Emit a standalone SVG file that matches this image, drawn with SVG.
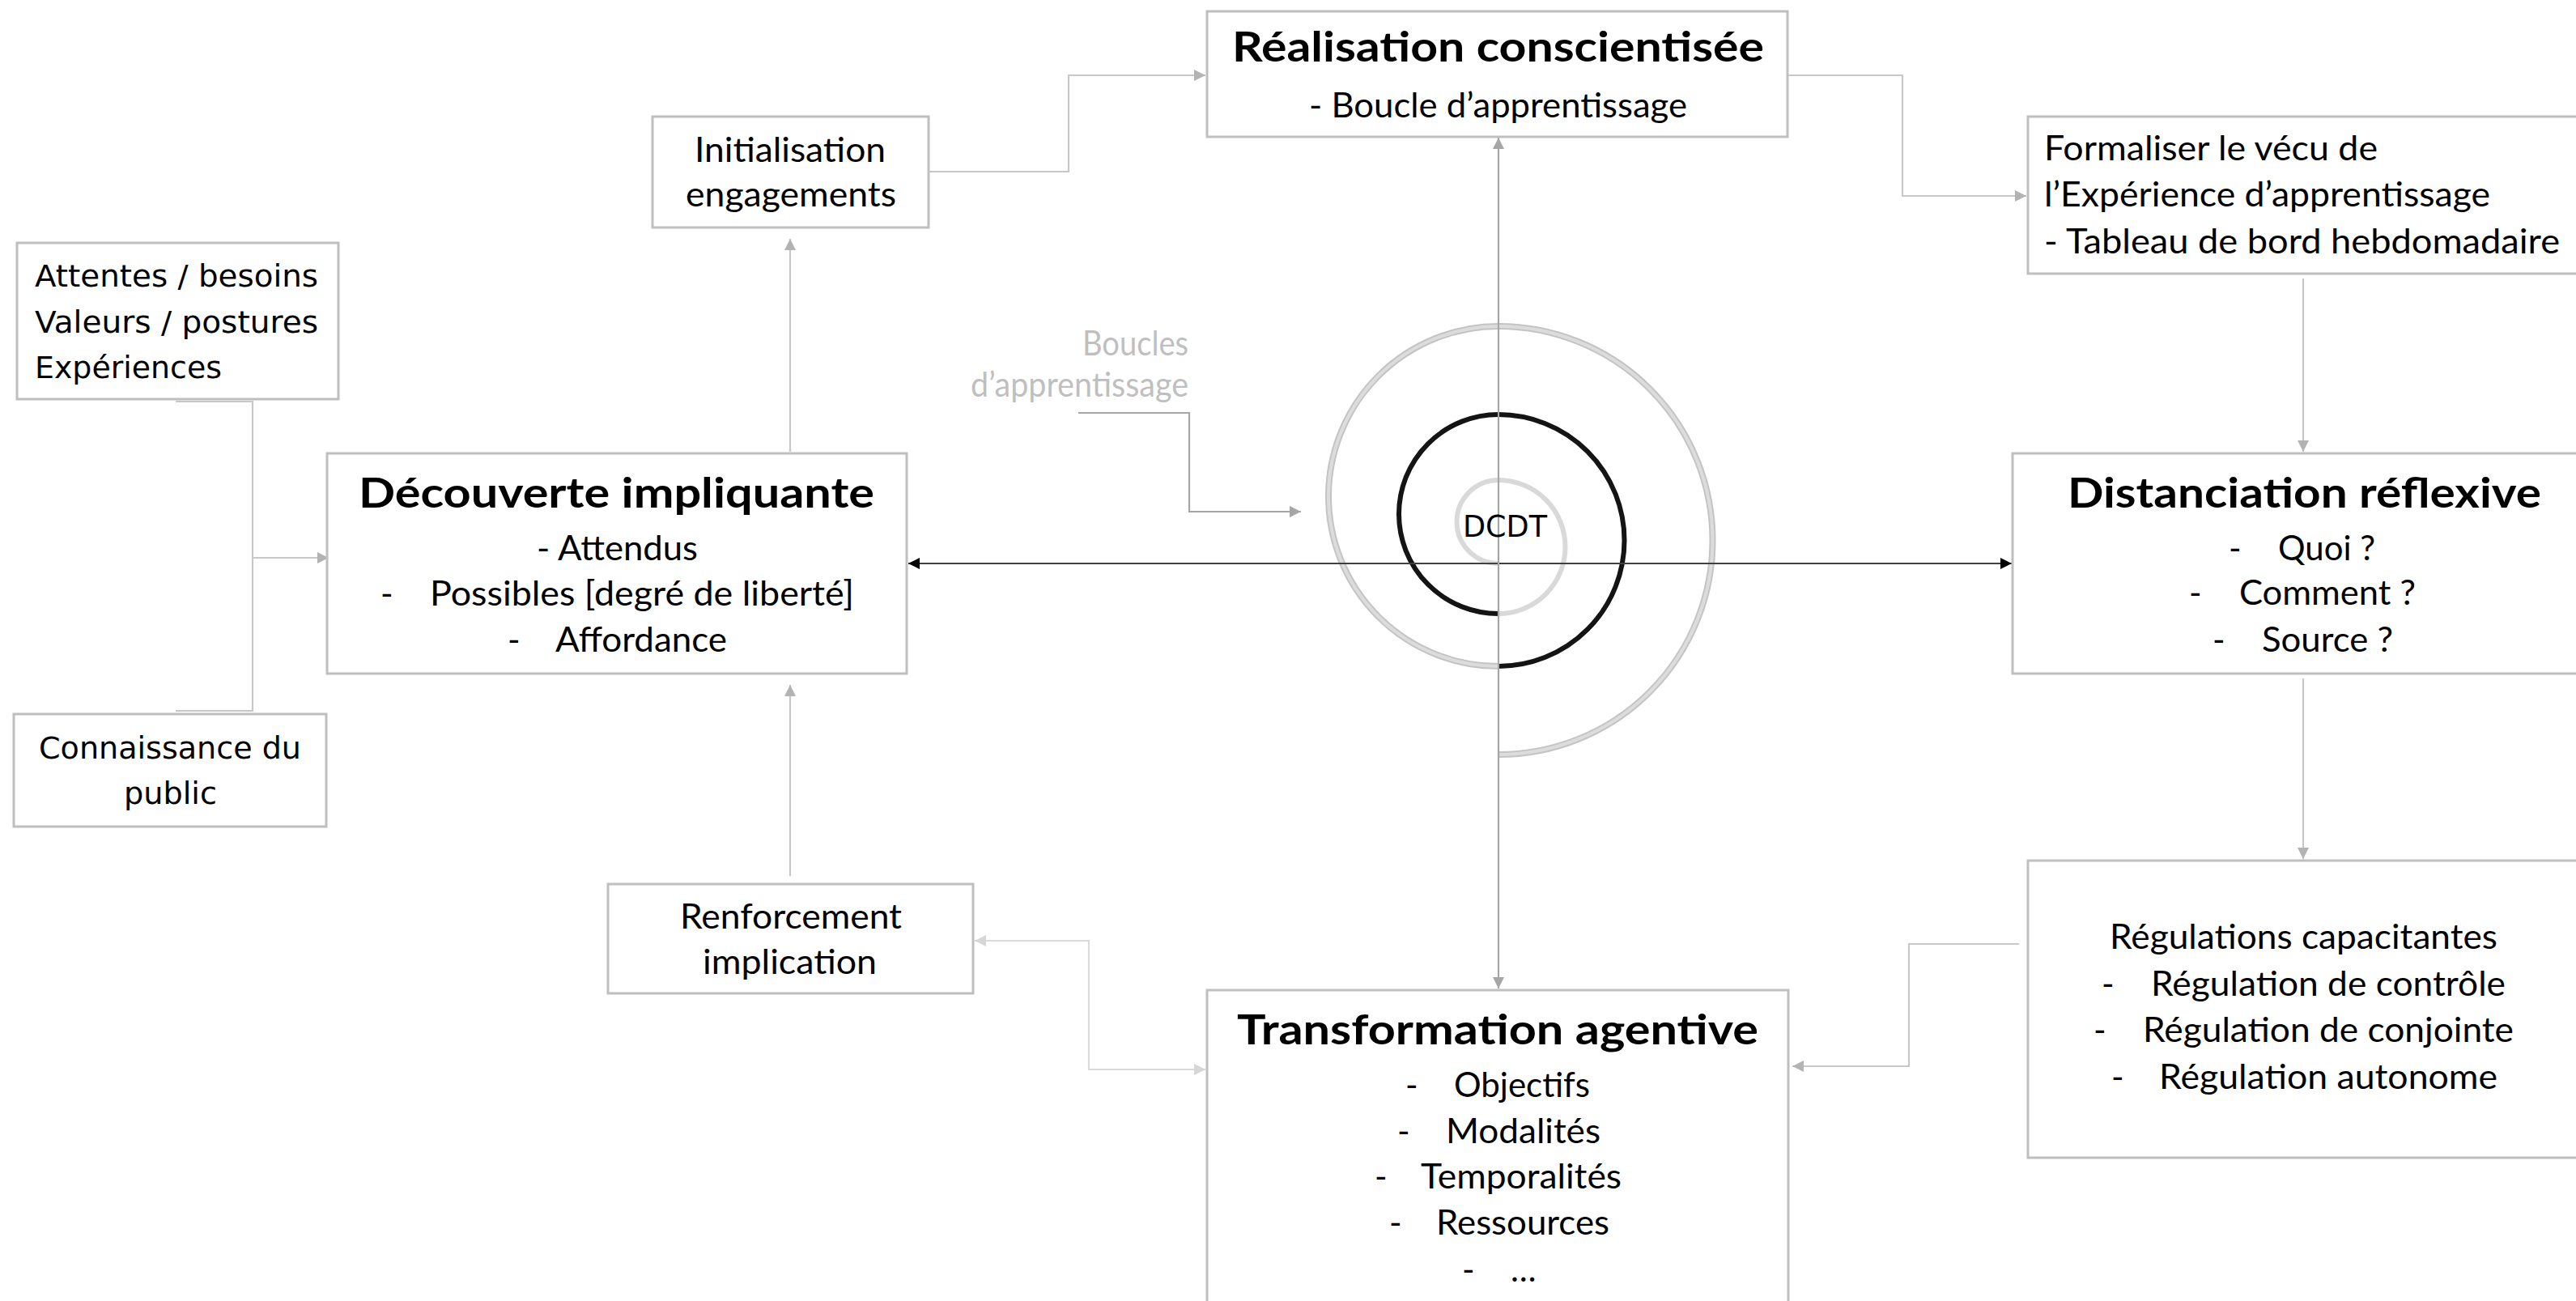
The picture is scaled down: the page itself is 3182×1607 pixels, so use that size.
<svg xmlns="http://www.w3.org/2000/svg" width="3182" height="1607" viewBox="0 0 3182 1607">
<style>
.bg{fill:#fff}
.box{fill:#fff;stroke:#bfbfbf;stroke-width:3}
.t{font-family:Lato,"Open Sans","Liberation Sans",sans-serif;font-size:42px;fill:#000}
.h{font-family:Lato,"Open Sans","Liberation Sans",sans-serif;font-size:52px;font-weight:700;fill:#000}
.v{font-family:"DejaVu Sans",Verdana,sans-serif;font-size:37px;fill:#000}
.lbl{font-family:Lato,"Open Sans","Liberation Sans",sans-serif;font-size:42px;fill:#bfbfbf}
.c{fill:none;stroke:#c8c8c8;stroke-width:2.2}
.cl{fill:none;stroke:#dadada;stroke-width:2.2}
.cd{fill:none;stroke:#a6a6a6;stroke-width:2.2}
.ax{fill:none;stroke:#404040;stroke-width:2.2}
.sp{fill:none}
</style>
<defs>
<marker id="ag" viewBox="0 0 10 10" refX="10" refY="5" markerWidth="15" markerHeight="14" markerUnits="userSpaceOnUse" orient="auto-start-reverse"><path d="M0,0 L10,5 L0,10 z" fill="#b3b3b3"/></marker>
<marker id="al" viewBox="0 0 10 10" refX="10" refY="5" markerWidth="15" markerHeight="14" markerUnits="userSpaceOnUse" orient="auto-start-reverse"><path d="M0,0 L10,5 L0,10 z" fill="#d6d6d6"/></marker>
<marker id="ad" viewBox="0 0 10 10" refX="10" refY="5" markerWidth="15" markerHeight="14" markerUnits="userSpaceOnUse" orient="auto-start-reverse"><path d="M0,0 L10,5 L0,10 z" fill="#a6a6a6"/></marker>
<marker id="ab" viewBox="0 0 10 10" refX="10" refY="5" markerWidth="15" markerHeight="14" markerUnits="userSpaceOnUse" orient="auto-start-reverse"><path d="M0,0 L10,5 L0,10 z" fill="#000"/></marker>
</defs>
<rect class="bg" x="0" y="0" width="3182" height="1607"/>

<g id="spiral">
<path class="sp" d="M1851,696 A51.5,51.5 0 0 1 1851,593 A82.5,82.5 0 0 1 1851,758" stroke="#d9d9d9" stroke-width="6"/>
<path class="sp" d="M1851,758 A123,123 0 0 1 1851,512 A155.5,155.5 0 0 1 1851,823" stroke="#141414" stroke-width="6"/>
<path class="sp" d="M1851,823 A210,210 0 0 1 1851,403 A264.5,264.5 0 0 1 1851,932" stroke="#c4c4c4" stroke-width="8"/>
<path class="sp" d="M1851,823 A210,210 0 0 1 1851,403 A264.5,264.5 0 0 1 1851,932" stroke="#dcdcdc" stroke-width="4"/>
</g>

<g id="connectors">
<path class="c" d="M1147,212 H1320 V93 H1489" marker-end="url(#ag)"/>
<path class="c" d="M2208,93 H2350 V242 H2503" marker-end="url(#ag)"/>
<path class="c" d="M2845,344 V558" marker-end="url(#ag)"/>
<path class="c" d="M2845,838 V1061" marker-end="url(#ag)"/>
<path class="c" d="M2494,1166 H2358 V1317 H2214" marker-end="url(#ag)"/>
<path class="cl" d="M1204,1162 H1345 V1321 H1489" marker-start="url(#al)" marker-end="url(#al)"/>
<path class="c" d="M976,1082 V846" marker-end="url(#ag)"/>
<path class="c" d="M976,558 V295" marker-end="url(#ag)"/>
<path class="c" d="M217,496 H312 V878 H217"/>
<path class="c" d="M312,689 H406" marker-end="url(#ag)"/>
<path class="cd" d="M1332,510 H1469 V632 H1607" marker-end="url(#ad)"/>
<path class="ax" d="M1122,696 H2485" marker-start="url(#ab)" marker-end="url(#ab)"/>
<path class="cd" d="M1851,170 V1221" marker-start="url(#ad)" marker-end="url(#ad)"/>
</g>

<g id="label-boucles">
<text class="lbl" x="1468" y="439" text-anchor="end" textLength="131" lengthAdjust="spacingAndGlyphs">Boucles</text>
<text class="lbl" x="1468" y="490" text-anchor="end" textLength="269" lengthAdjust="spacingAndGlyphs">d’apprentissage</text>
</g>

<g id="dcdt">
<text class="v" x="1807" y="663" font-size="38" textLength="104" lengthAdjust="spacingAndGlyphs">DCDT</text>
</g>

<g id="realisation">
<rect class="box" x="1491" y="14" width="717" height="155"/>
<text class="h" x="1522" y="76" textLength="657" lengthAdjust="spacingAndGlyphs">Réalisation conscientisée</text>
<text class="t" x="1617" y="145" textLength="467" lengthAdjust="spacingAndGlyphs">- Boucle d’apprentissage</text>
</g>

<g id="initialisation">
<rect class="box" x="806" y="144" width="341" height="137"/>
<text class="t" x="858" y="200" textLength="236" lengthAdjust="spacingAndGlyphs">Initialisation</text>
<text class="t" x="847" y="255" textLength="260" lengthAdjust="spacingAndGlyphs">engagements</text>
</g>

<g id="formaliser">
<rect class="box" x="2505" y="144" width="720" height="194"/>
<text class="t" x="2525" y="198" textLength="412" lengthAdjust="spacingAndGlyphs">Formaliser le vécu de</text>
<text class="t" x="2525" y="255" textLength="551" lengthAdjust="spacingAndGlyphs">l’Expérience d’apprentissage</text>
<text class="t" x="2525" y="313" textLength="637" lengthAdjust="spacingAndGlyphs">- Tableau de bord hebdomadaire</text>
</g>

<g id="attentes">
<rect class="box" x="21" y="300" width="397" height="193"/>
<text class="v" x="43" y="354" textLength="350" lengthAdjust="spacingAndGlyphs">Attentes / besoins</text>
<text class="v" x="43" y="411" textLength="350" lengthAdjust="spacingAndGlyphs">Valeurs / postures</text>
<text class="v" x="43" y="467" textLength="231" lengthAdjust="spacingAndGlyphs">Expériences</text>
</g>

<g id="connaissance">
<rect class="box" x="17" y="882" width="386" height="139"/>
<text class="v" x="48" y="937" textLength="324" lengthAdjust="spacingAndGlyphs">Connaissance du</text>
<text class="v" x="153" y="993" textLength="115" lengthAdjust="spacingAndGlyphs">public</text>
</g>

<g id="decouverte">
<rect class="box" x="404" y="560" width="716" height="272"/>
<text class="h" x="443" y="627" textLength="637" lengthAdjust="spacingAndGlyphs">Découverte impliquante</text>
<text class="t" x="663" y="692" textLength="199" lengthAdjust="spacingAndGlyphs">- Attendus</text>
<text class="t" y="748"><tspan x="470">- </tspan><tspan x="531" textLength="524" lengthAdjust="spacingAndGlyphs">Possibles [degré de liberté]</tspan></text>
<text class="t" y="805"><tspan x="627">- </tspan><tspan x="686" textLength="212" lengthAdjust="spacingAndGlyphs">Affordance</tspan></text>
</g>

<g id="distanciation">
<rect class="box" x="2486" y="560" width="720" height="272"/>
<text class="h" x="2554" y="627" textLength="585" lengthAdjust="spacingAndGlyphs">Distanciation réflexive</text>
<text class="t" y="692"><tspan x="2753">- </tspan><tspan x="2814" textLength="120" lengthAdjust="spacingAndGlyphs">Quoi ?</tspan></text>
<text class="t" y="747"><tspan x="2704">- </tspan><tspan x="2766" textLength="218" lengthAdjust="spacingAndGlyphs">Comment ?</tspan></text>
<text class="t" y="805"><tspan x="2733">- </tspan><tspan x="2794" textLength="162" lengthAdjust="spacingAndGlyphs">Source ?</tspan></text>
</g>

<g id="regulations">
<rect class="box" x="2505" y="1063" width="720" height="367"/>
<text class="t" x="2606" y="1172" textLength="479" lengthAdjust="spacingAndGlyphs">Régulations capacitantes</text>
<text class="t" y="1230"><tspan x="2596">- </tspan><tspan x="2657" textLength="438" lengthAdjust="spacingAndGlyphs">Régulation de contrôle</tspan></text>
<text class="t" y="1287"><tspan x="2586">- </tspan><tspan x="2647" textLength="458" lengthAdjust="spacingAndGlyphs">Régulation de conjointe</tspan></text>
<text class="t" y="1345"><tspan x="2608">- </tspan><tspan x="2667" textLength="418" lengthAdjust="spacingAndGlyphs">Régulation autonome</tspan></text>
</g>

<g id="renforcement">
<rect class="box" x="751" y="1092" width="451" height="135"/>
<text class="t" x="840" y="1147" textLength="274" lengthAdjust="spacingAndGlyphs">Renforcement</text>
<text class="t" x="868" y="1203" textLength="215" lengthAdjust="spacingAndGlyphs">implication</text>
</g>

<g id="transformation">
<rect class="box" x="1491" y="1223" width="718" height="420"/>
<text class="h" x="1528" y="1290" textLength="644" lengthAdjust="spacingAndGlyphs">Transformation agentive</text>
<text class="t" y="1355"><tspan x="1736">- </tspan><tspan x="1796" textLength="168" lengthAdjust="spacingAndGlyphs">Objectifs</tspan></text>
<text class="t" y="1412"><tspan x="1726">- </tspan><tspan x="1786" textLength="191" lengthAdjust="spacingAndGlyphs">Modalités</tspan></text>
<text class="t" y="1468"><tspan x="1698">- </tspan><tspan x="1755" textLength="248" lengthAdjust="spacingAndGlyphs">Temporalités</tspan></text>
<text class="t" y="1525"><tspan x="1716">- </tspan><tspan x="1774" textLength="214" lengthAdjust="spacingAndGlyphs">Ressources</tspan></text>
<text class="t" y="1583"><tspan x="1806">- </tspan><tspan x="1866">…</tspan></text>
</g>
</svg>
